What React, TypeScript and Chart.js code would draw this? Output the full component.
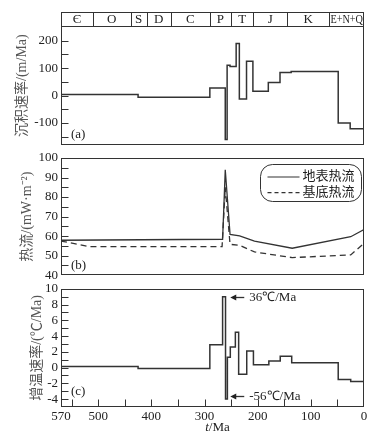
import React, { useEffect, useRef } from 'react';
import { Chart, registerables } from 'chart.js';

Chart.register(...registerables);

// ---------------- data ----------------
const periodBounds = [570, 510, 439, 409, 363, 290, 250, 208, 145, 65, 0];
const periodNames = ['Є', 'O', 'S', 'D', 'C', 'P', 'T', 'J', 'K', 'E+N+Q'];

// (a) sedimentation rate, m/Ma (value holds from time to next time)
const sedTimes = [570, 425, 290, 261, 257.5, 252, 240.5, 234.5, 221, 209, 180, 158, 137, 48.5, 26, 0];
const sedRates = [4, -6, 28, -160, 111, 106, 190, -12, 125, 16, 48, 84, 88, -100, -121, -121];

// (b) heat flow, mW/m2
const surfTimes = [570, 266, 261, 252, 234, 206, 135, 25, 0];
const surfFlow = [57.9, 58.4, 94, 60.9, 60.1, 57.5, 53.8, 59.7, 63.4];
const baseTimes = [570, 516, 267, 261, 252, 234, 206, 135, 25, 0];
const baseFlow = [57.5, 54.6, 54.6, 85, 55.8, 55.3, 51.9, 49, 50.4, 56.3];

// (c) heating rate, °C/Ma
const heatTimes = [570, 425, 290, 266, 260.5, 257, 251.5, 242, 235.8, 220.6, 208, 179, 157.6, 136, 48.5, 25, 0];
const heatRates = [0.15, -0.1, 2.9, 9, -4, 1.3, 2.6, 4.5, -0.85, 2.1, 0.35, 0.85, 1.45, 0.6, -1.5, -1.75, -1.75];

const noteTimes = [261, 261];
const noteValues = [8.9, -3.6];
const noteTexts = ['36℃/Ma', '-56℃/Ma'];

// ticks
const timeTickValues = [570, 550, 500, 450, 400, 350, 300, 250, 200, 150, 100, 50, 0];
const timeLabelValues = [570, 500, 400, 300, 200, 100, 0];
const sedTickValues = [-150, -100, -50, 0, 50, 100, 150, 200];
const sedLabelValues = [-100, 0, 100, 200];
const flowTickValues = [40, 45, 50, 55, 60, 65, 70, 75, 80, 85, 90, 95, 100];
const flowLabelValues = [40, 50, 60, 70, 80, 90, 100];
const heatTickValues = [-5, -4, -3, -2, -1, 0, 1, 2, 3, 4, 5, 6, 7, 8, 9, 10];
const heatLabelValues = [-4, -2, 0, 2, 4, 6, 8, 10];

const serif = "'Liberation Serif', 'Times New Roman', serif";
const cjk = "'Liberation Serif', 'Noto Sans CJK SC', serif";
const ink = '#333';

type Decor = {
  yTicks: number[];
  xTicks?: number[];
  panel: string;
  panelDy: number;
  periods?: boolean;
  legend?: boolean;
  notes?: boolean;
  xTitle?: boolean;
};

function makeDecor(d: Decor) {
  return {
    id: 'decor',
    afterDraw(chart: any) {
      const { ctx, chartArea: ca, scales } = chart;
      const x = scales.x;
      const y = scales.y;
      ctx.save();
      ctx.strokeStyle = ink;
      ctx.fillStyle = '#222';
      ctx.lineWidth = 1;
      const L = Math.round(ca.left) + 0.5;
      const R = Math.round(ca.right) - 0.5;
      const T = Math.round(ca.top) + 0.5;
      const B = Math.round(ca.bottom) - 0.5;
      ctx.strokeRect(L, T, R - L, B - T);

      ctx.beginPath();
      for (const v of d.yTicks) {
        if (v <= y.min || v >= y.max) continue;
        const py = Math.round(y.getPixelForValue(v)) + 0.5;
        ctx.moveTo(L, py);
        ctx.lineTo(L + 7, py);
      }
      if (d.xTicks) {
        for (const v of d.xTicks) {
          if (v <= x.min || v >= x.max) continue;
          const px = Math.round(x.getPixelForValue(v)) + 0.5;
          ctx.moveTo(px, B);
          ctx.lineTo(px, B - 7);
        }
      }
      ctx.stroke();

      // panel label
      ctx.font = `13px ${serif}`;
      ctx.textAlign = 'left';
      ctx.textBaseline = 'middle';
      ctx.fillText(d.panel, ca.left + 10, ca.bottom - d.panelDy);

      if (d.periods) {
        const top = T - 14;
        ctx.strokeRect(L, top, R - L, 14);
        ctx.textAlign = 'center';
        ctx.font = `13px ${serif}`;
        for (let i = 0; i < periodNames.length; i++) {
          const a = x.getPixelForValue(periodBounds[i]);
          const b = x.getPixelForValue(periodBounds[i + 1]);
          if (i > 0) {
            const px = Math.round(a) + 0.5;
            ctx.beginPath();
            ctx.moveTo(px, top);
            ctx.lineTo(px, T);
            ctx.stroke();
          }
          ctx.fillText(periodNames[i], (a + b) / 2, top + 7.5, Math.abs(b - a) - 2);
        }
      }

      if (d.legend) {
        const w = 101;
        const h = 37;
        const bx = Math.round(ca.right - 3 - w) + 0.5;
        const by = Math.round(ca.top + 6) + 0.5;
        ctx.beginPath();
        ctx.roundRect(bx, by, w, h, 12);
        ctx.stroke();
        chart.data.datasets.forEach((ds: any, i: number) => {
          const ly = by + 12.5 + i * 15.6;
          ctx.setLineDash(ds.borderDash ? [4, 3] : []);
          ctx.lineWidth = 1.2;
          ctx.beginPath();
          ctx.moveTo(bx + 7, ly);
          ctx.lineTo(bx + 39, ly);
          ctx.stroke();
          ctx.setLineDash([]);
          ctx.font = `13px ${cjk}`;
          ctx.textAlign = 'left';
          ctx.textBaseline = 'middle';
          ctx.fillText(ds.label, bx + 42, ly);
        });
      }

      if (d.notes) {
        ctx.lineWidth = 1.3;
        noteTimes.forEach((t, i) => {
          const px = x.getPixelForValue(t) + 5;
          const py = Math.round(y.getPixelForValue(noteValues[i])) + 0.5;
          ctx.beginPath();
          ctx.moveTo(px + 4, py);
          ctx.lineTo(px + 14, py);
          ctx.stroke();
          ctx.beginPath();
          ctx.moveTo(px, py);
          ctx.lineTo(px + 6, py - 3);
          ctx.lineTo(px + 6, py + 3);
          ctx.closePath();
          ctx.fill();
          ctx.font = `13px ${serif}`;
          ctx.textAlign = 'left';
          ctx.textBaseline = 'middle';
          ctx.fillText(noteTexts[i], px + 19, py);
        });
      }

      if (d.xTitle) {
        const cx = (ca.left + ca.right) / 2 + 5;
        const cy = chart.height - 11;
        ctx.font = `italic 13px ${serif}`;
        const w1 = ctx.measureText('t').width;
        ctx.font = `13px ${serif}`;
        const w2 = ctx.measureText('/Ma').width;
        const sx = cx - (w1 + w2) / 2;
        ctx.textAlign = 'left';
        ctx.textBaseline = 'middle';
        ctx.font = `italic 13px ${serif}`;
        ctx.fillText('t', sx, cy);
        ctx.font = `13px ${serif}`;
        ctx.fillText('/Ma', sx + w1, cy);
      }
      ctx.restore();
    },
  };
}

function yAxis(min: number, max: number, tickVals: number[], labelVals: number[], title: string, padL: number) {
  return {
    type: 'linear',
    min,
    max,
    grid: { display: false, drawTicks: false },
    border: { display: false },
    afterBuildTicks: (s: any) => {
      s.ticks = tickVals.map((v) => ({ value: v }));
    },
    afterFit: (s: any) => {
      s.width = 61 - padL;
    },
    ticks: {
      autoSkip: false,
      padding: 3,
      color: '#222',
      font: { family: serif, size: 13 },
      callback: (v: any) => (labelVals.includes(v) ? String(v) : ''),
    },
    title: {
      display: true,
      text: title,
      color: '#555',
      font: { family: cjk, size: 14 },
      padding: 0,
    },
  };
}

function xAxis(display: boolean) {
  return {
    type: 'linear',
    min: 0,
    max: 570,
    reverse: true,
    display,
    grid: { display: false, drawTicks: false },
    border: { display: false },
    afterBuildTicks: (s: any) => {
      s.ticks = timeTickValues.map((v) => ({ value: v }));
    },
    afterFit: (s: any) => {
      if (display) s.height = 32;
    },
    ticks: {
      autoSkip: false,
      maxRotation: 0,
      padding: 2,
      color: '#222',
      font: { family: serif, size: 13 },
      callback: (v: any) => (timeLabelValues.includes(v) ? String(v) : ''),
    },
  };
}

const pts = (xs: number[], ys: number[]) => xs.map((t, i) => ({ x: t, y: ys[i] }));

function baseOptions(pad: any, scales: any) {
  return {
    responsive: false,
    animation: false,
    events: [],
    layout: { padding: pad },
    plugins: { legend: { display: false }, tooltip: { enabled: false } },
    scales,
  };
}

export default function App() {
  const refA = useRef<HTMLCanvasElement>(null);
  const refB = useRef<HTMLCanvasElement>(null);
  const refC = useRef<HTMLCanvasElement>(null);

  useEffect(() => {
    const lineStyle = {
      borderColor: ink,
      borderWidth: 1.5,
      pointRadius: 0,
      tension: 0,
      borderJoinStyle: 'miter',
      fill: false,
    };
    const a = new Chart(refA.current as HTMLCanvasElement, {
      type: 'line',
      data: {
        datasets: [{ label: '沉积速率', data: pts(sedTimes, sedRates), stepped: true, ...lineStyle } as any],
      },
      options: baseOptions(
        { top: 26, bottom: 10, left: 14, right: 20 },
        { x: xAxis(false), y: yAxis(-181, 254, sedTickValues, sedLabelValues, '沉积速率/(m/Ma)', 14) }
      ) as any,
      plugins: [makeDecor({ yTicks: sedTickValues, panel: '(a)', panelDy: 10.5, periods: true })],
    });
    const b = new Chart(refB.current as HTMLCanvasElement, {
      type: 'line',
      data: {
        datasets: [
          { label: '地表热流', data: pts(surfTimes, surfFlow), ...lineStyle, borderWidth: 1.3 } as any,
          { label: '基底热流', data: pts(baseTimes, baseFlow), ...lineStyle, borderWidth: 1.3, borderDash: [6, 4] } as any,
        ],
      },
      options: baseOptions(
        { top: 18, bottom: 10, left: 19, right: 20 },
        { x: xAxis(false), y: yAxis(40, 100, flowTickValues, flowLabelValues, '热流/(mW·m⁻²)', 19) }
      ) as any,
      plugins: [makeDecor({ yTicks: flowTickValues, panel: '(b)', panelDy: 10, legend: true })],
    });
    const c = new Chart(refC.current as HTMLCanvasElement, {
      type: 'line',
      data: {
        datasets: [{ label: '增温速率', data: pts(heatTimes, heatRates), stepped: true, ...lineStyle } as any],
      },
      options: baseOptions(
        { top: 10, bottom: 0, left: 29, right: 20 },
        { x: xAxis(true), y: yAxis(-5, 10, heatTickValues, heatLabelValues, '增温速率/(℃/Ma)', 29) }
      ) as any,
      plugins: [makeDecor({ yTicks: heatTickValues, xTicks: timeTickValues, panel: '(c)', panelDy: 15, notes: true, xTitle: true })],
    });
    return () => {
      a.destroy();
      b.destroy();
      c.destroy();
    };
  }, []);

  const cv = (top: number, h: number): React.CSSProperties => ({
    position: 'absolute',
    left: 0,
    top,
    width: 384,
    height: h,
  });

  return (
    <div style={{ position: 'absolute', left: 0, top: 0, width: 384, height: 439, background: '#fff', overflow: 'hidden' }}>
      <canvas ref={refA} width={384} height={156} style={cv(0, 156)} />
      <canvas ref={refB} width={384} height={146} style={cv(140, 146)} />
      <canvas ref={refC} width={384} height={161} style={cv(278, 161)} />
    </div>
  );
}
